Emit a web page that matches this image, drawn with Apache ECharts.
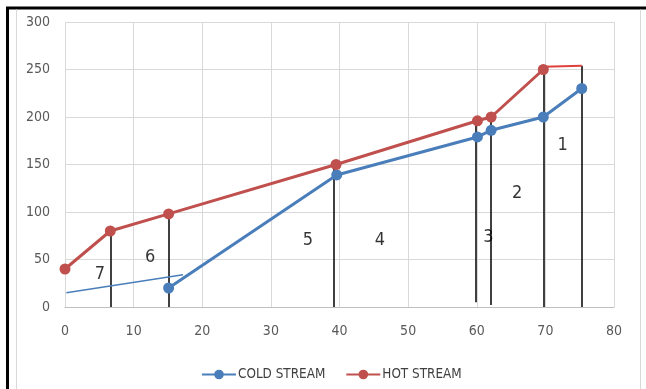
<!DOCTYPE html>
<html>
<head>
<meta charset="utf-8">
<script src="https://cdn.jsdelivr.net/npm/echarts@6/dist/echarts.min.js"></script>
<style>
html,body{margin:0;padding:0;background:#fff;}
#chart{width:646px;height:389px;}
</style>
</head>
<body>
<div id="chart"></div>
<script>
// ---- data ----
const hotX = [0, 6.6, 15.1, 39.5, 60.1, 62.1, 69.7];
const hotY = [40, 80, 98, 150, 196, 200, 250];
const coldX = [15.1, 39.6, 60.1, 62.1, 69.7, 75.3];
const coldY = [20, 139, 179, 186, 200, 230];
const hotTailX = [69.7, 75.3];
const hotTailY = [253, 254];
const guideX = [0.2, 17.2];
const guideY = [15, 34];
const dividerX = [6.6, 15.1, 39.2, 59.8, 62.1, 69.7, 75.3];
const dividerTop = [80, 98, 150, 196, 200, 250, 254];
const dividerBottom = [0, 0, 0, 5, 2, 0, 0];
const zoneNames = ['1', '2', '3', '4', '5', '6', '7'];
const zoneX = [72.5, 65.9, 61.7, 45.9, 35.4, 12.4, 5.1];
const zoneY = [170, 120, 73, 70.5, 70.5, 52, 34];
const xTicks = {min: 0, max: 80, interval: 10};
const yTicks = {min: 0, max: 300, interval: 50};

const FONT = "'DejaVu Sans Condensed', 'Liberation Sans Narrow', 'Roboto Condensed', sans-serif";
const BLUE = '#4a7ebb';
const RED = '#c0504d';

const zip = (a, b) => a.map((v, i) => [v, b[i]]);

const chart = echarts.init(document.getElementById('chart'), null, {renderer: 'canvas'});
chart.setOption({
  animation: false,
  backgroundColor: '#fff',
  grid: {left: 65, right: 32, top: 22, bottom: 82, containLabel: false},
  xAxis: {
    type: 'value', min: xTicks.min, max: xTicks.max, interval: xTicks.interval,
    axisLine: {show: true, lineStyle: {color: '#bfbfbf', width: 1}},
    axisTick: {show: false},
    axisLabel: {color: '#595959', fontSize: 14, fontFamily: FONT, margin: 17},
    splitLine: {show: true, lineStyle: {color: '#d9d9d9', width: 1}}
  },
  yAxis: {
    type: 'value', min: yTicks.min, max: yTicks.max, interval: yTicks.interval,
    axisLine: {show: false},
    axisTick: {show: false},
    axisLabel: {color: '#595959', fontSize: 14, fontFamily: FONT, margin: 15},
    splitLine: {show: true, lineStyle: {color: '#d9d9d9', width: 1}}
  },
  legend: {
    data: ['COLD STREAM', 'HOT STREAM'],
    left: 201, top: 368, padding: 0,
    itemWidth: 34, itemHeight: 12, itemGap: 20,
    textStyle: {color: '#404040', fontSize: 13.4, fontFamily: FONT, padding: [0, 0, 0, -3]}
  },
  graphic: [
    {type: 'line', shape: {x1: 6, y1: 8, x2: 646, y2: 8}, style: {stroke: '#000', lineWidth: 3}, silent: true},
    {type: 'line', shape: {x1: 7.5, y1: 7, x2: 7.5, y2: 389}, style: {stroke: '#000', lineWidth: 3}, silent: true},
    {type: 'line', shape: {x1: 16.5, y1: 9.5, x2: 16.5, y2: 389}, style: {stroke: '#d9d9d9', lineWidth: 1}, silent: true},
    {type: 'line', shape: {x1: 640.5, y1: 9.5, x2: 640.5, y2: 389}, style: {stroke: '#d9d9d9', lineWidth: 1}, silent: true}
  ],
  series: [
    {
      name: 'dividers', type: 'lines', coordinateSystem: 'cartesian2d', silent: true, z: 3,
      lineStyle: {color: '#000', width: 1.5, opacity: 1},
      data: dividerX.map((x, i) => ({coords: [[x, dividerBottom[i]], [x, dividerTop[i]]]}))
    },
    {
      name: 'guide', type: 'line', silent: true, symbol: 'none', z: 4,
      lineStyle: {color: BLUE, width: 1.5},
      data: zip(guideX, guideY)
    },
    {
      name: 'hotTail', type: 'line', silent: true, symbol: 'none', z: 4,
      lineStyle: {color: '#e0403c', width: 2},
      data: zip(hotTailX, hotTailY)
    },
    {
      name: 'COLD STREAM', type: 'line', z: 5,
      symbol: 'circle', symbolSize: 11,
      itemStyle: {color: BLUE},
      lineStyle: {color: BLUE, width: 3},
      data: zip(coldX, coldY)
    },
    {
      name: 'HOT STREAM', type: 'line', z: 5,
      symbol: 'circle', symbolSize: 11,
      itemStyle: {color: RED},
      lineStyle: {color: RED, width: 3},
      data: zip(hotX, hotY)
    },
    {
      name: 'zones', type: 'scatter', silent: true, symbolSize: 0, z: 6,
      label: {show: true, position: 'inside', formatter: p => p.data.name,
        color: '#000', fontSize: 18, fontFamily: FONT},
      data: zoneNames.map((n, i) => ({name: n, value: [zoneX[i], zoneY[i]]}))
    }
  ]
});
</script>
</body>
</html>
